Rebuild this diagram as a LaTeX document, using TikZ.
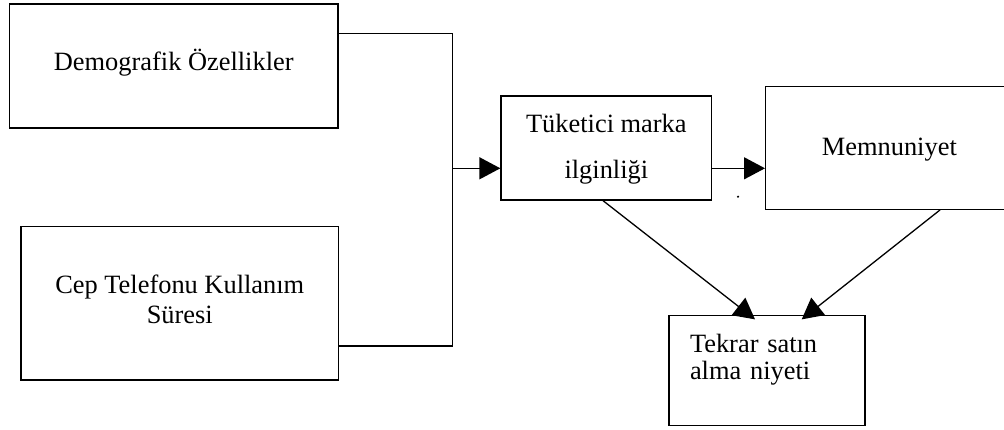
\documentclass[tikz,border=0pt]{standalone}
\usepackage{fontspec}
\setmainfont{Liberation Serif}
\usetikzlibrary{arrows.meta, positioning, calc}

\begin{document}
\begin{tikzpicture}[
  x=0.5pt, y=-0.5pt,
  every node/.style={font=\fontsize{13.2}{15}\selectfont},
  box/.style={draw=black, line width=0.65pt, inner sep=0pt, align=center},
  arrow/.style={-{Triangle[length=10.5pt, width=11pt]}, line width=0.65pt},
  link/.style={line width=0.65pt}
]
  \clip (0,0) rectangle (1004,429);

  % Girdiler
  \node[box, minimum width=164.25pt, minimum height=62pt, text height=8pt, text depth=3.3pt] (demo) at (173.75,66) {Demografik Özellikler};
  \node[box, minimum width=158.75pt, minimum height=76.75pt, text height=24pt, text depth=4pt] (sure) at (179.75,303.25) {Cep Telefonu Kullanım\\Süresi};

  % Ara ve sonuç kutuları
  \node[box, minimum width=105.35pt, minimum height=52pt, text height=33pt, text depth=3pt] (ilgi) at (606.35,148) {Tüketici marka\\[8pt]ilginliği};
  \node[box, minimum width=123.7pt, minimum height=61.3pt, text height=10pt, text depth=3pt] (memn) at (889.35,148) {Memnuniyet};
  \node[box, minimum width=98pt, minimum height=55pt, inner xsep=10.5pt, text width=77pt, align=left, text height=4pt, text depth=22pt] (niyet) at (767,370.7) {Tekrar satın\\[-1.5pt]alma niyeti};

  % Birleşme çizgisi
  \coordinate (j1) at (452.5,33.3);
  \coordinate (j2) at (452.5,346);
  \coordinate (jm) at (452.5,168.3);
  \draw[link] (demo.east |- j1) -- (j1) -- (j2) -- (sure.east |- j2);

  \draw[arrow] (jm) -- (jm -| ilgi.west);
  \draw[arrow] (ilgi.east |- jm) -- (memn.west |- jm);
  \draw[arrow] ($(ilgi.south)+(-3.35,0)$) -- ($(niyet.north)+(-12,4.3)$);
  \draw[arrow] ($(memn.south)+(50.65,0)$) -- ($(niyet.north)+(34.7,4.3)$);

  \fill (738,196.7) circle (0.6pt);

\end{tikzpicture}
\end{document}
